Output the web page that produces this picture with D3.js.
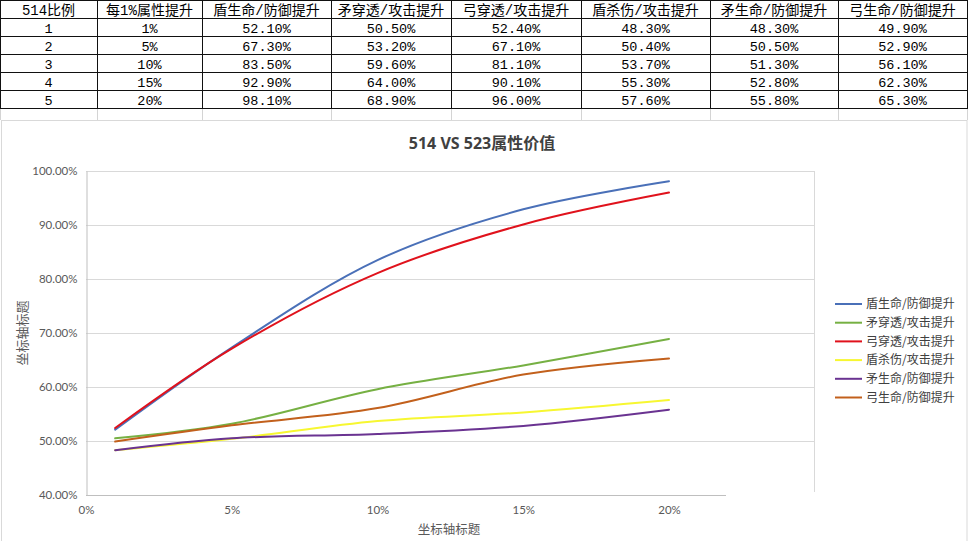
<!DOCTYPE html>
<html>
<head>
<meta charset="utf-8">
<script src="https://cdn.jsdelivr.net/npm/d3@7"></script>
<style>
  html, body { margin: 0; padding: 0; background: #fff; }
  svg { display: block; }
</style>
</head>
<body>
<div id="chart"></div>
<script>
// table / series data
const rowIds = [1, 2, 3, 4, 5];
const stepLabels = ["1%", "5%", "10%", "15%", "20%"];
const xValues = [1, 5, 10, 15, 20];
const seriesNames = ["盾生命/防御提升", "矛穿透/攻击提升", "弓穿透/攻击提升", "盾杀伤/攻击提升", "矛生命/防御提升", "弓生命/防御提升"];
const shieldHp = [52.1, 67.3, 83.5, 92.9, 98.1];
const spearPen = [50.5, 53.2, 59.6, 64.0, 68.9];
const bowPen = [52.4, 67.1, 81.1, 90.1, 96.0];
const shieldDmg = [48.3, 50.4, 53.7, 55.3, 57.6];
const spearHp = [48.3, 50.5, 51.3, 52.8, 55.8];
const bowHp = [49.9, 52.9, 56.1, 62.3, 65.3];
const yTicks = [40, 50, 60, 70, 80, 90, 100];
const xTicks = [0, 5, 10, 15, 20];
const seriesColors = ["#4a70b8", "#76b043", "#e0121c", "#f7f731", "#6a3391", "#c2601c"];

const allSeries = [shieldHp, spearPen, bowPen, shieldDmg, spearHp, bowHp];

const W = 968, H = 541;
const svg = d3.select("#chart").append("svg")
    .attr("width", W)
    .attr("height", H)
    .attr("viewBox", [0, 0, W, H]);

svg.append("rect").attr("width", W).attr("height", H).attr("fill", "#fff");

// ---- spreadsheet part ----
const colEdges = [0, 97, 202, 331, 451, 581, 710, 838, 967];
const rowH = 18;
const headers = ["514比例", "每1%属性提升", ...seriesNames];
const pct = d => d3.format(".2f")(d) + "%";
const rows = rowIds.map((id, i) => [String(id), stepLabels[i], ...allSeries.map(s => pct(s[i]))]);
const tableFont = "'Liberation Mono', 'Noto Sans CJK SC', monospace";

const table = svg.append("g").attr("class", "table");

// faint empty row under the table
colEdges.forEach(x => {
    table.append("line")
        .attr("x1", x + 0.5).attr("x2", x + 0.5)
        .attr("y1", rowH * 6).attr("y2", 120)
        .attr("stroke", "#d4d4d4");
});

[headers, ...rows].forEach((cells, r) => {
    cells.forEach((txt, c) => {
        table.append("text")
            .attr("x", (colEdges[c] + colEdges[c + 1]) / 2)
            .attr("y", r * rowH + rowH / 2 + 1)
            .attr("dy", "0.35em")
            .attr("text-anchor", "middle")
            .attr("font-family", tableFont)
            .attr("font-size", r === 0 ? 14 : 13.5)
            .attr("fill", "#000")
            .text(txt);
    });
});

d3.range(7).forEach(r => {
    table.append("line")
        .attr("x1", 0).attr("x2", W)
        .attr("y1", r * rowH + 0.5).attr("y2", r * rowH + 0.5)
        .attr("stroke", "#111");
});
colEdges.forEach(x => {
    table.append("line")
        .attr("x1", x + 0.5).attr("x2", x + 0.5)
        .attr("y1", 0).attr("y2", rowH * 6)
        .attr("stroke", "#111");
});

// ---- chart part ----
const chart = svg.append("g").attr("class", "chart");
chart.append("rect")
    .attr("x", 1.5).attr("y", 120.5)
    .attr("width", 965.5).attr("height", 430)
    .attr("fill", "#fff")
    .attr("stroke", "#d9d9d9");

const x = d3.scaleLinear().domain([0, 20]).range([86, 669]);
const y = d3.scaleLinear().domain([40, 100]).range([495, 171]);
const plotRight = 814;
const labelFont = "Lato, 'Noto Sans CJK SC', sans-serif";

// gridlines
chart.append("g")
    .selectAll("line")
    .data(yTicks.slice(1))
    .join("line")
    .attr("x1", x(0)).attr("x2", plotRight)
    .attr("y1", d => Math.round(y(d)) + 0.5).attr("y2", d => Math.round(y(d)) + 0.5)
    .attr("stroke", "#d9d9d9");

chart.append("line")
    .attr("x1", plotRight + 0.5).attr("x2", plotRight + 0.5)
    .attr("y1", y(100)).attr("y2", 492)
    .attr("stroke", "#d9d9d9");

// y axis
const yAxis = chart.append("g")
    .attr("transform", `translate(${x(0) + 0.5},0)`)
    .call(d3.axisLeft(y).tickValues(yTicks).tickSize(0).tickPadding(9).tickFormat(d => d3.format(".2f")(d) + "%"));
yAxis.select(".domain").attr("stroke", "#bfbfbf");
yAxis.selectAll("text")
    .attr("font-family", labelFont)
    .attr("font-size", 11.5)
    .attr("fill", "#595959");

// x axis
const xAxis = chart.append("g")
    .attr("transform", `translate(0,${Math.round(y(40)) + 0.5})`)
    .call(d3.axisBottom(x).tickValues(xTicks).tickSize(0).tickPadding(10).tickFormat(d => d + "%"));
xAxis.select(".domain").remove();
xAxis.append("line")
    .attr("x1", x(0)).attr("x2", 726)
    .attr("stroke", "#bfbfbf");
xAxis.selectAll("text")
    .attr("font-family", labelFont)
    .attr("font-size", 11.5)
    .attr("fill", "#595959");

// title
chart.append("text")
    .attr("x", 482).attr("y", 143)
    .attr("dy", "0.35em")
    .attr("text-anchor", "middle")
    .attr("font-family", "'Open Sans', 'Noto Sans CJK SC', sans-serif")
    .attr("font-weight", "bold")
    .attr("font-size", 16)
    .attr("fill", "#404040")
    .text("514 VS 523属性价值");

// axis titles
chart.append("text")
    .attr("x", 449).attr("y", 530)
    .attr("dy", "0.35em")
    .attr("text-anchor", "middle")
    .attr("font-family", "'Noto Sans CJK SC', sans-serif")
    .attr("font-size", 12.5)
    .attr("fill", "#595959")
    .text("坐标轴标题");

chart.append("text")
    .attr("transform", `translate(22,333) rotate(-90)`)
    .attr("dy", "0.35em")
    .attr("text-anchor", "middle")
    .attr("font-family", "'Noto Sans CJK SC', sans-serif")
    .attr("font-size", 13)
    .attr("fill", "#595959")
    .text("坐标轴标题");

// series lines
const line = d3.line()
    .x((d, i) => x(xValues[i]))
    .y(d => y(d))
    .curve(d3.curveCatmullRom.alpha(0.5));

chart.append("g")
    .selectAll("path")
    .data(allSeries)
    .join("path")
    .attr("fill", "none")
    .attr("stroke", (d, i) => seriesColors[i])
    .attr("stroke-width", 2)
    .attr("stroke-linecap", "round")
    .attr("d", line);

// legend
const legend = chart.append("g")
    .attr("transform", "translate(835,304)")
    .selectAll("g")
    .data(seriesNames)
    .join("g")
    .attr("transform", (d, i) => `translate(0,${i * 18.7})`);

legend.append("line")
    .attr("x1", 0).attr("x2", 27)
    .attr("stroke", (d, i) => seriesColors[i])
    .attr("stroke-width", 2);

legend.append("text")
    .attr("x", 31)
    .attr("dy", "0.35em")
    .attr("font-family", "'Noto Sans CJK SC', sans-serif")
    .attr("font-size", 12)
    .attr("fill", "#404040")
    .text(d => d);
</script>
</body>
</html>
